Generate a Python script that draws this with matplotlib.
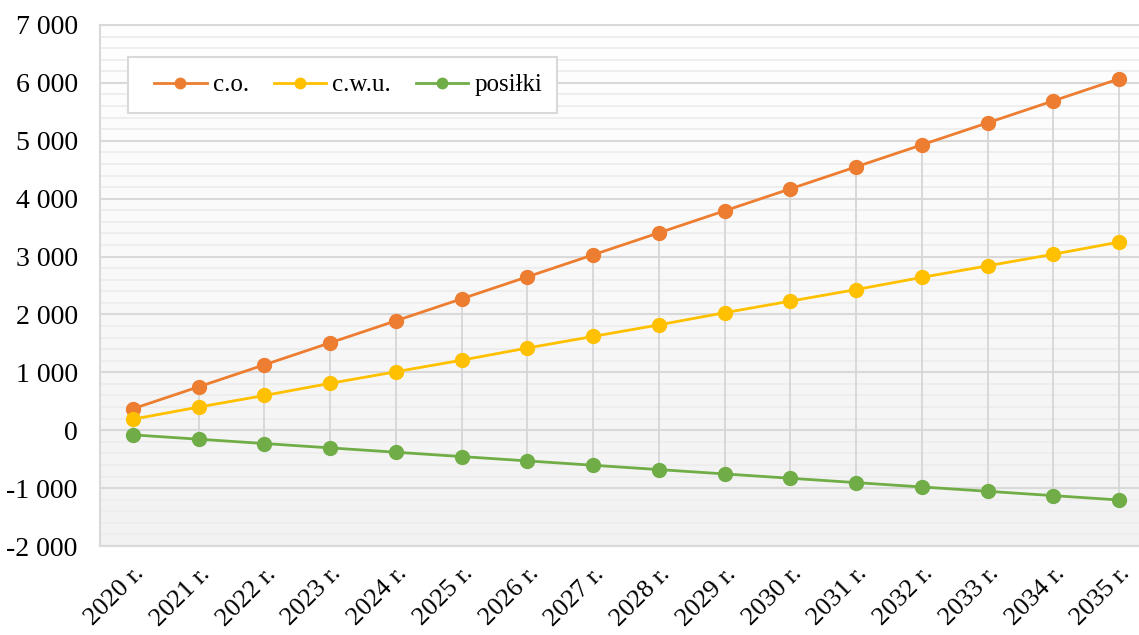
import numpy as np
import matplotlib
matplotlib.use("Agg")
import matplotlib.pyplot as plt
from matplotlib.patches import Rectangle
from matplotlib.ticker import FuncFormatter, MultipleLocator

years = ["2020 r.", "2021 r.", "2022 r.", "2023 r.", "2024 r.", "2025 r.", "2026 r.", "2027 r.",
         "2028 r.", "2029 r.", "2030 r.", "2031 r.", "2032 r.", "2033 r.", "2034 r.", "2035 r."]
co = [370, 750, 1130, 1510, 1890, 2270, 2650, 3030, 3410, 3790, 4170, 4550, 4930, 5310, 5690, 6070]
cwu = [190, 400, 600, 810, 1010, 1210, 1420, 1620, 1820, 2030, 2230, 2430, 2640, 2840, 3040, 3250]
posilki = [-80, -155, -230, -305, -380, -455, -530, -605, -680, -755, -830, -905, -980, -1055, -1130, -1205]

plt.rcParams['font.family'] = ['Liberation Serif', 'DejaVu Serif']

W, H = 1139, 635
fig = plt.figure(figsize=(W / 100, H / 100), dpi=100)
ax = fig.add_axes([100 / W, 89 / H, 1052 / W, 521 / H])

x = np.arange(len(years))

# background gradient
grad = np.linspace(0, 1, 256).reshape(-1, 1)
cmap = matplotlib.colors.LinearSegmentedColormap.from_list("bg", ["#f2f2f2", "#ffffff"])
ax.imshow(grad, extent=[0, 1, 0, 1], transform=ax.transAxes, aspect='auto',
          cmap=cmap, origin='lower', zorder=0)

# high-low lines
hi = np.max([co, cwu, posilki], axis=0)
lo = np.min([co, cwu, posilki], axis=0)
ax.vlines(x, lo, hi, color="#d6d6d6", lw=1.3, zorder=1)

ax.plot(x, co, color="#ED7D31", lw=2, marker='o', ms=10, label="c.o.", zorder=3)
ax.plot(x, cwu, color="#FFC000", lw=2, marker='o', ms=10, label="c.w.u.", zorder=3)
ax.plot(x, posilki, color="#70AD47", lw=2, marker='o', ms=10, label="posiłki", zorder=3)

ax.set_xlim(-0.5, len(years) - 0.5)
ax.set_ylim(-2000, 7000)
ax.yaxis.set_major_locator(MultipleLocator(1000))
ax.yaxis.set_minor_locator(MultipleLocator(200))
ax.yaxis.set_major_formatter(FuncFormatter(lambda v, p: f"{int(v):,}".replace(",", " ")))
ax.grid(which='major', axis='y', color="#d9d9d9", lw=1.5, zorder=1)
ax.grid(which='minor', axis='y', color="#ececec", lw=1.2, zorder=1)
ax.set_axisbelow(True)

ax.set_xticks(x)
ax.set_xticklabels(years, rotation=45, ha='right', rotation_mode='anchor', fontsize=19)
ax.tick_params(axis='y', labelsize=20, length=0, pad=16, which='both')
ax.tick_params(axis='x', length=0, pad=12)

for s in ax.spines.values():
    s.set_color("#d9d9d9")
    s.set_linewidth(1.5)

# legend frame drawn separately, legend itself without frame
frame = Rectangle((128 / W, 1 - 113 / H), 429 / W, 56 / H, transform=fig.transFigure,
                  facecolor="white", edgecolor="#d9d9d9", lw=1.5, zorder=4, clip_on=False)
ax.add_patch(frame)
leg = ax.legend(loc='center left', bbox_to_anchor=(154 / W, 1 - 85 / H), bbox_transform=fig.transFigure,
                ncol=3, fontsize=18, frameon=False, markerscale=0.75,
                handlelength=2.1, columnspacing=1.0, borderpad=0, borderaxespad=0,
                handletextpad=0.24)
leg.set_zorder(5)

fig.savefig("out.png", dpi=100)
